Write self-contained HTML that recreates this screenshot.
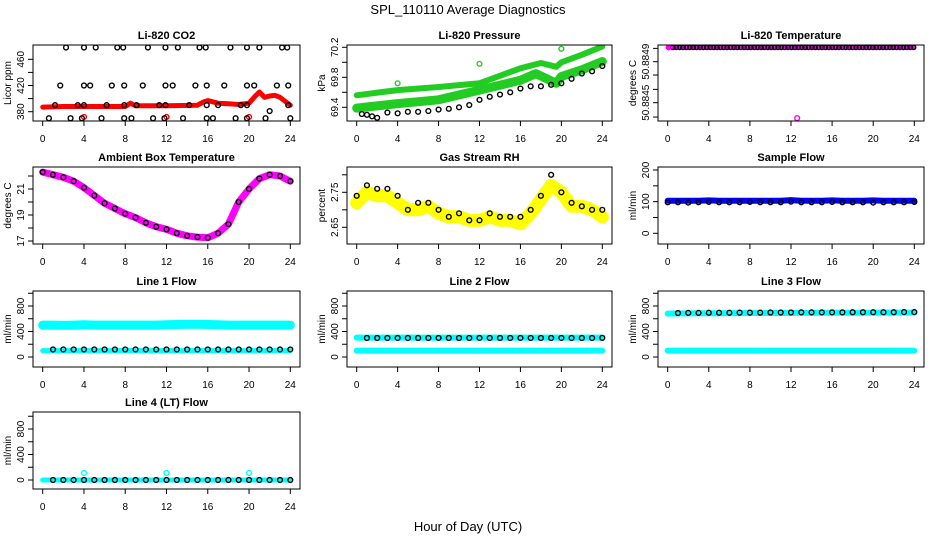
<!DOCTYPE html>
<html><head><meta charset="utf-8">
<style>
html,body{margin:0;padding:0;background:#fff;}
svg{display:block;font-family:"Liberation Sans",sans-serif;}
</style></head>
<body>
<svg id="c" width="936" height="540" viewBox="0 0 936 540">
<text x="468" y="14" text-anchor="middle" font-size="13">SPL_110110  Average Diagnostics</text>
<text x="468" y="531" text-anchor="middle" font-size="13">Hour of Day (UTC)</text>
</svg>
<script>
// ---- data ----
const xTicks = [0,4,8,12,16,20,24];
// CO2
const co2TopHours = [2.26,4.0,5.14,7.23,7.8,10.2,11.9,13.1,15.2,15.8,18.2,19.8,21.0,23.2,23.7];
const co2MidHours = [1.7,4.0,4.6,6.7,7.9,9.7,11.9,12.6,14.8,15.9,17.6,19.8,20.5,22.7,23.8];
const co2LowHours = [1.2,3.4,4.0,6.2,7.9,9.1,11.3,11.9,14.2,15.9,17.0,19.2,19.8,23.8];
const co2BotHours = [0.6,2.7,3.8,5.7,7.9,8.6,10.7,11.8,13.6,15.9,16.5,18.7,19.8,21.6,24.0];
const co2RedHours = [0,2,4,6,8,8.5,9,12,15,15.6,16,17,18,19,20,20.5,21,21.5,22,22.5,23,24];
const co2RedVals  = [387,388,388,388,388,393,389,389,390,395,397,393,392,391,393,402,410,402,404,405,402,390];
const co2RedOutHours = [4,12,20];
// Pressure
const presUpHours = [0,4,8,12,16,18,19.5,20,22,24];
const presUpVals  = [69.56,69.63,69.67,69.72,69.92,69.99,69.94,70.0,70.1,70.21];
const presLoHours = [0,4,8,12,16,17.5,19.5,20,22,24];
const presLoVals  = [69.39,69.45,69.5,69.63,69.76,69.85,69.72,69.81,69.9,70.01];
const presBlkHours = [0.5,1,1.5,2,3,4,5,6,7,8,9,10,11,12,13,14,15,16,17,18,19,20,21,22,23,24];
const presBlkVals  = [69.31,69.3,69.28,69.26,69.33,69.32,69.34,69.34,69.35,69.37,69.38,69.4,69.43,69.5,69.54,69.57,69.6,69.65,69.68,69.68,69.7,69.72,69.78,69.85,69.88,69.95];
const presOutHours = [4,12,20];
const presOutVals  = [69.72,69.98,70.18];
// Li-820 temperature
const tempVal = 50.88504;
const tempOutHour = [12.6];
const tempOutVal = [50.88435];
// Ambient
const ambHours = [0,1,2,3,4,5,6,7,8,9,10,11,12,13,14,15,16,17,18,19,20,21,22,23,24];
const ambVals  = [22.3,22.1,21.9,21.6,21.1,20.5,19.9,19.5,19.1,18.8,18.4,18.1,17.9,17.6,17.4,17.3,17.25,17.6,18.3,20.0,21.0,21.8,22.1,22.0,21.6];
// RH
const rhHours  = [0,1,2,3,4,5,6,7,8,9,10,11,12,13,14,15,16,17,18,19,20,21,22,23,24];
const rhYellow = [2.72,2.75,2.74,2.74,2.72,2.70,2.70,2.71,2.69,2.68,2.68,2.67,2.67,2.68,2.67,2.67,2.66,2.69,2.73,2.77,2.75,2.71,2.71,2.70,2.68];
const rhBlack  = [2.74,2.77,2.76,2.76,2.74,2.70,2.72,2.72,2.70,2.68,2.69,2.67,2.67,2.69,2.68,2.68,2.68,2.70,2.74,2.80,2.75,2.72,2.71,2.70,2.70];
// flows (value per hour)
const flowHours = [0,1,2,3,4,5,6,7,8,9,10,11,12,13,14,15,16,17,18,19,20,21,22,23,24];
const sampleBlue  = [103,103,103,103,104,103,103,103,103,103,103,103,105,103,103,103,104,103,103,103,104,103,103,103,103];
const sampleBlack = [98,98,97,98,99,98,98,98,99,98,98,98,100,98,98,98,99,98,98,98,97,98,98,98,99];
const l1Upper = [500,500,495,500,505,500,500,500,500,500,500,500,505,510,515,515,510,505,500,500,500,500,500,500,500];
const l1Lower = [100,100,100,100,100,100,100,100,100,100,100,100,100,100,100,100,100,100,100,100,100,100,100,100,100];
const l1Black = [118,118,118,118,119,118,118,118,119,118,118,118,119,118,118,118,119,118,118,118,119,118,118,118,119];
const l2Upper = [305,305,305,305,305,305,305,305,305,305,305,305,305,305,305,305,305,305,305,305,305,305,305,305,305];
const l2Lower = [100,100,100,100,100,100,100,100,100,100,100,100,100,100,100,100,100,100,100,100,100,100,100,100,100];
const l2Black = [298,298,298,298,299,298,298,298,299,298,298,298,299,298,298,298,299,298,298,298,299,298,298,298,300];
const l3Upper = [680,682,684,685,686,686,688,688,690,690,690,690,692,692,692,694,694,694,694,694,696,696,696,696,696];
const l3Lower = [100,100,100,100,100,100,100,100,100,100,100,100,100,100,100,100,100,100,100,100,100,100,100,100,100];
const l3Black = [690,690,692,692,694,694,694,696,696,696,698,698,698,700,700,700,700,700,702,702,702,702,702,704,704];
const l4Cyan  = [0,0,0,0,0,0,0,0,0,0,0,0,0,0,0,0,0,0,0,0,0,0,0,0,0];
const l4Black = [0,0,0,0,0,0,0,0,0,0,0,0,0,0,0,0,0,0,0,0,0,0,0,0,0];
const l4OutHours = [4,12,20];
const l4OutVals  = [110,110,110];

// ---- drawing ----
const svg = document.getElementById('c');
const NS = 'http://www.w3.org/2000/svg';
function mk(tag, attrs, parent){
  const e = document.createElementNS(NS, tag);
  for (const k in attrs) e.setAttribute(k, attrs[k]);
  (parent||svg).appendChild(e);
  return e;
}
const COLS = [[33,300],[347,612],[658,924]];
const ROWS = [[45,121],[167,244],[291,367],[412,489]];

function panel(name, col, row, title, ytitle, v1, p1, v2, p2, ticks, labels){
  const [L,R] = COLS[col], [T,B] = ROWS[row];
  const g = mk('g', {});
  
  
  const x = h => (L + 9.7) + h * ((R - L - 19.4) / 24);
  const y = v => p1 + (v - v1) * (p2 - p1) / (v2 - v1);
  const clip = mk('clipPath', {id: name + '-clip'}, g);
  mk('rect', {x: L, y: T, width: R - L, height: B - T}, clip);
  const plot = mk('g', {'clip-path': 'url(#' + name + '-clip)'}, g);
  
  
  const box = mk('rect', {x: L, y: T, width: R - L, height: B - T, fill: 'none', stroke: '#000', 'stroke-width': 1}, g);
  
  
  const t = mk('text', {x: (L + R) / 2, y: T - 6, 'text-anchor': 'middle', 'font-size': 11, 'font-weight': 'bold'}, g);
  t.textContent = title;
  
  
  // x axis
  const xa = mk('g', {}, g);
  
  
  xTicks.forEach(h => {
    mk('line', {x1: x(h), x2: x(h), y1: B, y2: B + 5, stroke: '#000'}, xa);
    const tl = mk('text', {x: x(h), y: B + 21, 'text-anchor': 'middle', 'font-size': 10}, xa);
    tl.textContent = h;
    
    
  });
  // y axis
  const ya = mk('g', {}, g);
  
  
  ticks.forEach((v, i) => {
    const yy = y(v);
    mk('line', {x1: L, x2: L - 5, y1: yy, y2: yy, stroke: '#000'}, ya);
    if (labels[i] !== '') {
      const tl = mk('text', {x: L - 9, y: yy, 'text-anchor': 'middle', 'font-size': 10, transform: 'rotate(-90 ' + (L - 9) + ' ' + yy + ')'}, ya);
      tl.textContent = labels[i];
      
      
    }
  });
  const ym = (T + B) / 2;
  const yt = mk('text', {x: L - 22, y: ym, 'text-anchor': 'middle', 'font-size': 10, transform: 'rotate(-90 ' + (L - 22) + ' ' + ym + ')'}, g);
  yt.textContent = ytitle;
  
  
  return {x, y, plot};
}
function band(p, hours, vals, color, w, name){
  const pts = hours.map((h, i) => p.x(h).toFixed(1) + ',' + p.y(vals[i]).toFixed(1)).join(' ');
  const e = mk('polyline', {points: pts, fill: 'none', stroke: color, 'stroke-width': w, 'stroke-linejoin': 'round', 'stroke-linecap': 'round'}, p.plot);
  
  
}
function pts(p, hours, vals, color, name, r){
  hours.forEach((h, i) => {
    const e = mk('circle', {cx: p.x(h), cy: p.y(vals[i]), r: r || 2.4, fill: 'none', stroke: color, 'stroke-width': 1.4}, p.plot);
    
    
  });
}
function fill(n, v){ return Array(n).fill(v); }

// CO2
let p = panel('co2', 0, 0, 'Li-820 CO2', 'Licor ppm', 380, 111.7, 460, 59.3, [380,400,420,440,460], ['380','','420','','460']);
band(p, co2RedHours, co2RedVals, '#ff0000', 5, 'co2-red-series');
pts(p, co2RedOutHours, fill(3, 372), '#ff0000', 'co2-red-outlier');
pts(p, co2TopHours, fill(co2TopHours.length, 478), '#000', 'co2-black-point');
pts(p, co2MidHours, fill(co2MidHours.length, 420), '#000', 'co2-black-point');
pts(p, co2LowHours, fill(co2LowHours.length, 390), '#000', 'co2-black-point');
pts(p, [22.0], [381], '#000', 'co2-black-point');
pts(p, co2BotHours, fill(co2BotHours.length, 370), '#000', 'co2-black-point');

// Pressure
p = panel('pressure', 1, 0, 'Li-820 Pressure', 'kPa', 69.4, 107.3, 69.8, 77.3, [69.4,69.6,69.8,70.0,70.2], ['69.4','','69.8','','70.2']);
band(p, presUpHours, presUpVals, '#22cc22', 6, 'pressure-upper-green');
band(p, presLoHours, presLoVals, '#22cc22', 9, 'pressure-lower-green');
pts(p, presOutHours, presOutVals, '#22cc22', 'pressure-green-outlier');
pts(p, presBlkHours, presBlkVals, '#000', 'pressure-black-point');

// Li-820 temperature
p = panel('licor-temp', 2, 0, 'Li-820 Temperature', 'degrees C', 50.8849, 61.7, 50.8845, 102.7, [50.88503,50.8849,50.88477,50.88463,50.8845,50.88436], ['','50.8849','','','50.8845','']);
band(p, [0,24], [tempVal, tempVal], '#ff00ff', 4, 'licor-temp-magenta');
const tH = []; for (let h = 0.5; h <= 24; h += 0.33) tH.push(h);
pts(p, tH, fill(tH.length, tempVal), '#000', 'licor-temp-black-point', 2.2);
pts(p, [0.1], [tempVal], '#ff00ff', 'licor-temp-magenta-point');
pts(p, tempOutHour, tempOutVal, '#ff00ff', 'licor-temp-outlier');

// Ambient
p = panel('ambient', 0, 1, 'Ambient Box Temperature', 'degrees C', 17, 241, 21, 189, [17,18,19,20,21,22], ['17','','19','','21','']);
band(p, ambHours, ambVals, '#ff00ff', 7, 'ambient-magenta');
pts(p, ambHours, ambVals, '#000', 'ambient-black-point');

// RH
p = panel('rh', 1, 1, 'Gas Stream RH', 'percent', 2.75, 192.3, 2.65, 227.3, [2.65,2.70,2.75,2.80], ['2.65','','2.75','']);
band(p, rhHours, rhYellow, '#ffff00', 13, 'rh-yellow');
pts(p, rhHours, rhBlack, '#000', 'rh-black-point');

// Sample flow
p = panel('sample-flow', 2, 1, 'Sample Flow', 'ml/min', 0, 233.3, 200, 170, [0,50,100,150,200], ['0','','100','','200']);
band(p, flowHours, sampleBlue, '#0000ff', 6, 'sample-flow-blue');
pts(p, flowHours, sampleBlack, '#000', 'sample-flow-black-point');

const fT = [0,200,400,600,800,1000], fL = ['0','','400','','800',''];
p = panel('line1', 0, 2, 'Line 1 Flow', 'ml/min', 0, 357, 800, 306, fT, fL);
band(p, flowHours, l1Upper, '#00ffff', 9, 'line1-upper-cyan');
band(p, flowHours, l1Lower, '#00ffff', 5, 'line1-lower-cyan');
pts(p, flowHours.slice(1), l1Black.slice(1), '#000', 'line1-black-point');

p = panel('line2', 1, 2, 'Line 2 Flow', 'ml/min', 0, 357, 800, 306, fT, fL);
band(p, flowHours, l2Upper, '#00ffff', 6, 'line2-upper-cyan');
band(p, flowHours, l2Lower, '#00ffff', 6, 'line2-lower-cyan');
pts(p, flowHours.slice(1), l2Black.slice(1), '#000', 'line2-black-point');

p = panel('line3', 2, 2, 'Line 3 Flow', 'ml/min', 0, 357, 800, 306, fT, fL);
band(p, flowHours, l3Upper, '#00ffff', 6, 'line3-upper-cyan');
band(p, flowHours, l3Lower, '#00ffff', 6, 'line3-lower-cyan');
pts(p, flowHours.slice(1), l3Black.slice(1), '#000', 'line3-black-point');

p = panel('line4', 0, 3, 'Line 4 (LT) Flow', 'ml/min', 0, 480, 800, 429, fT, fL);
band(p, flowHours, l4Cyan, '#00ffff', 5, 'line4-cyan');
pts(p, flowHours.slice(1), l4Black.slice(1), '#000', 'line4-black-point');
pts(p, l4OutHours, l4OutVals, '#00ffff', 'line4-cyan-outlier');
</script>
</body></html>
